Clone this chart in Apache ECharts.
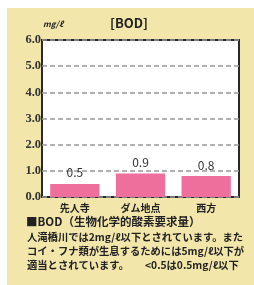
<!DOCTYPE html>
<html>
<head>
<meta charset="utf-8">
<script src="https://cdn.jsdelivr.net/npm/echarts@6/dist/echarts.min.js"></script>
<style>
  html, body { margin: 0; padding: 0; background: #fff; }
  #chart { width: 254px; height: 285px; }
</style>
</head>
<body>
<div id="chart"></div>
<script>
const categories = ['先人寺', 'ダム地点', '西方']
const bodValues = [0.5, 0.9, 0.8]
const yTicks = [0, 1, 2, 3, 4, 5, 6]

const notes = [
  '人滝橋川では2mg/ℓ以下とされています。また',
  'コイ・フナ類が生息するためには5mg/ℓ以下が',
  '適当とされています。',
]
const noteTail = '<0.5は0.5mg/ℓ以下'

const FONT = '"Noto Sans CJK JP", sans-serif'
const chart = echarts.init(document.getElementById('chart'))

const textStyle = (size, weight) => ({ fontFamily: FONT, fontSize: size, fontWeight: weight || 'bold', fill: '#222' })

const option = {
  animation: false,
  backgroundColor: '#fff',
  graphic: [
    { type: 'rect', z: -10, shape: { x: 7, y: 8, width: 247, height: 277 }, style: { fill: '#f3e6ab' } },
    { type: 'rect', z: -9, shape: { x: 42, y: 40, width: 197, height: 157 }, style: { fill: '#fff' } },
    { type: 'text', left: 110, top: 17, style: { text: '[BOD]', ...textStyle(13) } },
    { type: 'text', left: 43, top: 20, style: { text: 'mg/ℓ', ...textStyle(8), fontStyle: 'italic' } },
    { type: 'text', left: 26, top: 216, style: { text: '■BOD（生物化学的酸素要求量）', ...textStyle(11.5) } },
    { type: 'text', left: 27, top: 232, style: { text: notes[0], ...textStyle(10.3) } },
    { type: 'text', left: 27, top: 246, style: { text: notes[1], ...textStyle(10.3) } },
    { type: 'text', left: 27, top: 260, style: { text: notes[2], ...textStyle(10.3) } },
    { type: 'text', left: 145, top: 260, style: { text: noteTail, ...textStyle(10.3) } },
  ],
  grid: {
    left: 42,
    right: 15,
    top: 40,
    bottom: 88,
    show: true,
    backgroundColor: 'transparent',
    borderColor: '#2a2a2a',
    borderWidth: 2,
  },
  xAxis: {
    type: 'category',
    data: categories,
    axisLine: { show: false },
    axisTick: { show: false },
    axisLabel: { fontFamily: FONT, fontSize: 10, fontWeight: 'bold', color: '#222', margin: 6 },
  },
  yAxis: {
    type: 'value',
    min: yTicks[0],
    max: yTicks[yTicks.length - 1],
    interval: 1,
    axisLine: { show: false },
    axisTick: { show: false },
    axisLabel: {
      fontFamily: 'Liberation Serif, serif',
      fontSize: 12.5,
      fontWeight: 'bold',
      color: '#333',
      margin: 1,
      formatter: (v) => v.toFixed(1),
    },
    splitLine: { lineStyle: { color: '#999', type: [5, 3], width: 1.5 } },
  },
  series: [
    {
      type: 'bar',
      data: bodValues,
      barWidth: '75%',
      itemStyle: { color: '#ee6f9c' },
      label: {
        show: true,
        position: 'top',
        distance: 5,
        fontFamily: FONT,
        fontSize: 12,
        color: '#333',
        formatter: (p) => p.value.toFixed(1),
      },
    },
  ],
}

chart.setOption(option)
</script>
</body>
</html>
